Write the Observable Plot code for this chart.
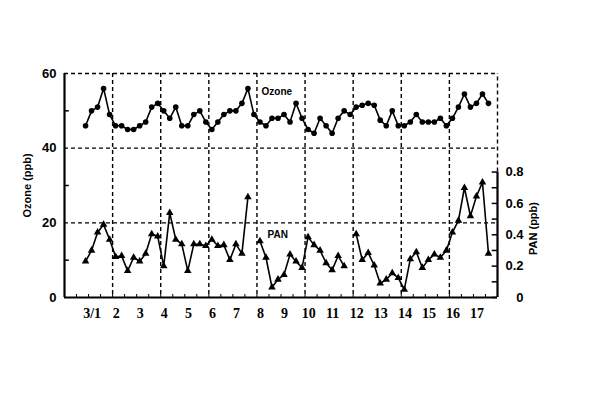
<!DOCTYPE html>
<html><head><meta charset="utf-8">
<script src="https://cdn.jsdelivr.net/npm/d3@7"></script>
<script src="https://cdn.jsdelivr.net/npm/@observablehq/plot@0.6"></script>
<style>body{margin:0;background:#fff}</style>
</head><body><div id="chart"></div>
<script>
// Day axis: labels and positions (days)
const dayLabels = ["3/1","2","3","4","5","6","7","8","9","10","11","12","13","14","15","16","17"];
const dayTicks = [1,2,3,4,5,6,7,8,9,10,11,12,13,14,15,16,17];
const gridDays = [2,4,6,8,10,12,14,16];
// Left axis (Ozone, ppb)
const ozoneTicks = [0,20,40,60];
const ozoneMinor = [10,30,50];
const ozoneGrid = [20,40,60];
// Right axis (PAN, ppb)
const panTicks = [0,0.2,0.4,0.6,0.8];
const panMinor = [0.1,0.3,0.5,0.7];
// 6-hourly observations starting at day 0.875
const obsStart = 0.875, obsStep = 0.25;
const ozone = [46,50,51,56,49,46,46,45,45,46,47,51,52,50,48,51,46,46,49,50,47,45,47,49,50,50,52,56,
               49,47,46,48,48,49,47,52,48,45,44,48,46,44,48,50,49,51,51.5,52,51.5,47.5,46,50,46,46,47,49,47,47,47,48,
               46,48,51,54.5,51,52,54.5,52];
const pan = [0.23,0.30,0.415,0.465,0.37,0.26,0.265,0.17,0.255,0.23,0.28,0.405,0.39,0.20,0.54,0.37,0.34,0.17,0.34,0.34,0.33,0.37,0.33,0.335,0.24,0.34,0.28,0.64,
             null,
             0.36,0.255,0.065,0.115,0.145,0.275,0.23,0.19,0.385,0.335,0.30,0.22,0.175,0.265,0.20,
             null,
             0.405,0.24,0.285,0.205,0.09,0.115,0.155,0.125,0.05,0.245,0.29,0.19,0.24,0.275,
             0.255,0.30,0.415,0.49,0.70,0.52,0.645,0.735,0.28];
const seriesLabels = [{text:"Ozone", t:8.19, v:55.2}, {text:"PAN", t:8.44, v:16.9}];

// PAN axis shares the frame: 0–0.8 ppb mapped onto the ozone scale
const panScale = d3.scaleLinear([0, 0.8], [0, 33.6]);

const data = ozone.map((o, i) => ({t: obsStart + i * obsStep, ozone: o, pan: pan[i]}));
const panData = data.filter(d => d.pan != null);
const halfDays = d3.range(1, 36).map(d => d / 2);

const dash = {stroke: "black", strokeWidth: 1.4, strokeDasharray: "4,3"};
const bold = {fontWeight: "bold", fill: "black"};
const narrow = "'Liberation Sans Narrow', 'Liberation Sans', sans-serif";

const chart = Plot.plot({
  width: 600, height: 415,
  marginLeft: 64, marginRight: 103, marginTop: 73, marginBottom: 118,
  x: {domain: [0, 18], axis: null},
  y: {domain: [0, 60], axis: null},
  style: {background: "white", fontFamily: "'Liberation Sans', sans-serif"},
  marks: [
    Plot.ruleX(gridDays, dash),
    Plot.ruleY(ozoneGrid, {x1: 0, x2: 18, ...dash}),
    Plot.ruleX([18], {y1: panScale(0.8), y2: 60, ...dash}),
    Plot.ruleX([0], {y1: 0, y2: 60, stroke: "black", strokeWidth: 2.2}),
    Plot.ruleX([18], {y1: 0, y2: panScale(0.8), stroke: "black", strokeWidth: 2.2}),
    Plot.ruleY([0], {x1: 0, x2: 18, stroke: "black", strokeWidth: 2}),
    Plot.ruleY(ozoneMinor, {x1: 0, x2: 0.2, stroke: "black", strokeWidth: 1.5}),
    Plot.ruleY(panTicks.concat(panMinor), {y: d => panScale(d), x1: 17.78, x2: 18, stroke: "black", strokeWidth: 1.5}),
    Plot.ruleX(halfDays, {y1: 0, y2: 0.8, stroke: "black", strokeWidth: 1}),
    // Ozone series
    Plot.line(data, {x: "t", y: "ozone", stroke: "black", strokeWidth: 1.6}),
    Plot.dot(data, {x: "t", y: "ozone", r: 2.8, fill: "black", stroke: "none"}),
    // PAN series (gaps where missing)
    Plot.line(data, {x: "t", y: d => d.pan == null ? NaN : panScale(d.pan), stroke: "black", strokeWidth: 1.6}),
    Plot.dot(panData, {x: "t", y: d => panScale(d.pan), symbol: "triangle", r: 2.8, fill: "black", stroke: "none"}),
    // Series labels
    Plot.text(seriesLabels, {x: "t", y: "v", text: "text", textAnchor: "start", fontSize: 10, ...bold, fontFamily: narrow}),
    // Axis labels
    Plot.text(dayTicks, {x: d => d + 0.15, y: 0, text: (d, i) => dayLabels[i], dy: 16, fontSize: 14, ...bold, fontFamily: "'Liberation Serif', serif"}),
    Plot.text(ozoneTicks, {x: 0, y: d => d, text: d => String(d), textAnchor: "end", dx: -8, fontSize: 13, ...bold}),
    Plot.text(panTicks, {x: 18, y: d => panScale(d), text: d => d === 0 ? "0" : d.toFixed(1), textAnchor: "end", dx: 26, fontSize: 13, ...bold}),
    Plot.text(["Ozone (ppb)"], {x: 0, y: 30, dx: -37, rotate: -90, fontSize: 11, ...bold, fontFamily: narrow}),
    Plot.text(["PAN (ppb)"], {x: 18, y: panScale(0.44), dx: 36, rotate: -90, fontSize: 11, ...bold, fontFamily: narrow})
  ]
});
document.getElementById("chart").appendChild(chart);
</script>
</body></html>
